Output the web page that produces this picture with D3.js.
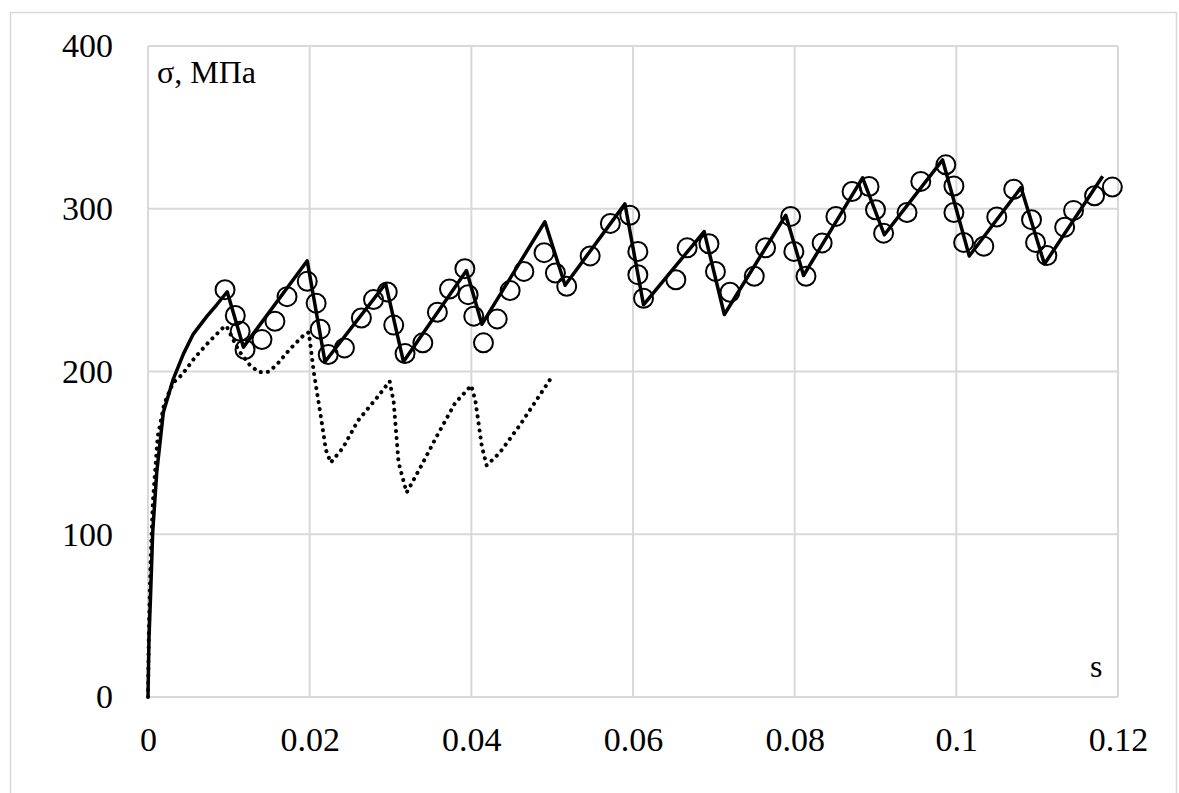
<!DOCTYPE html>
<html>
<head>
<meta charset="utf-8">
<script src="https://cdn.jsdelivr.net/npm/d3@7"></script>
<style>
  body { margin: 0; background: #fff; }
  text { font-family: "Liberation Serif", "Times New Roman", serif; fill: #000; }
</style>
</head>
<body>
<svg id="chart" width="1179" height="793"></svg>
<script>
// Model curve (solid line)
const modelX = [0, 0.00012, 0.0003, 0.00058, 0.00108, 0.0019, 0.0031, 0.0044, 0.0056, 0.0073,
  0.0085, 0.0098,
  0.0118, 0.0197, 0.0219, 0.0294, 0.0316, 0.0394, 0.0413, 0.0491, 0.0516, 0.059,
  0.0613, 0.0688, 0.0713, 0.0789, 0.0811, 0.0884, 0.0911, 0.0983, 0.1016, 0.108,
  0.1109, 0.1181];
const modelY = [0, 36, 60, 101, 138, 175, 195, 211, 223, 234,
  241, 249,
  215, 268, 206, 254, 206, 262, 229, 292, 253, 303,
  241, 286, 235, 296, 259, 319, 284, 330, 271, 313,
  266, 320];

// Second curve (dotted line)
const dotX = [0, 0.0001, 0.0003, 0.0006, 0.0012, 0.002, 0.0031, 0.0042, 0.0058, 0.0075,
  0.0093, 0.0097, 0.0112, 0.0126, 0.0137, 0.0149, 0.0159, 0.0176, 0.0194, 0.0199,
  0.0205, 0.0213, 0.022, 0.0226, 0.0241, 0.026, 0.0284, 0.0299, 0.0304, 0.031,
  0.032, 0.0338, 0.0357, 0.038, 0.04, 0.0405, 0.0413, 0.0419, 0.0435, 0.046,
  0.048, 0.05];
const dotY = [0, 40, 80, 120, 160, 180, 193, 198, 208.6, 218,
  227, 228, 213, 204, 199.6, 199.8, 204, 214, 223, 224,
  200, 175, 152, 144, 153, 170, 184.4, 194, 181, 144,
  125.6, 142, 160, 180.7, 191.4, 182, 154, 142.3, 150, 167,
  182, 197];

// Experimental points (circles)
const expX = [0.00953, 0.0108, 0.0114, 0.012, 0.0141, 0.0157, 0.0172, 0.0197, 0.0208, 0.0213,
  0.0223, 0.0243, 0.0264, 0.0279, 0.0296, 0.0304, 0.0318, 0.034, 0.0358, 0.0373,
  0.0392, 0.0396, 0.0403, 0.0415, 0.0432, 0.0448, 0.0465, 0.049, 0.0504, 0.0518,
  0.0547, 0.0572, 0.0596, 0.0606, 0.0606, 0.0613, 0.0653, 0.0667, 0.0694, 0.0702,
  0.072, 0.075, 0.0764, 0.0795, 0.0799, 0.0814, 0.0834, 0.0851, 0.0871, 0.0892,
  0.09, 0.091, 0.0939, 0.0956, 0.0987, 0.0997, 0.0997, 0.1009, 0.1034, 0.105,
  0.1071, 0.1093, 0.1098, 0.1112, 0.1134, 0.1145, 0.1171, 0.1193];
const expY = [250.3, 234.4, 224.7, 213.5, 219.6, 230.9, 246, 255.4, 242, 226,
  210.4, 214.5, 232.9, 244.2, 248.9, 228.5, 211, 217.6, 236.4, 250.7,
  263.2, 247.2, 234, 217.6, 232.3, 249.7, 261.5, 273, 260.5, 252.4,
  271, 291, 296, 273.8, 259.5, 245, 256.4, 276, 278.5, 261.5,
  248.7, 258.5, 276, 295.3, 273.8, 258.5, 279, 295.3, 310.6, 313.7,
  299.4, 285, 297.7, 316.8, 327, 314, 297.7, 279.3, 277, 295,
  312, 293.3, 279.3, 271.2, 288.7, 299, 308, 313.3];

const xTicks = [0, 0.02, 0.04, 0.06, 0.08, 0.1, 0.12];
const xTickLabels = ['0', '0.02', '0.04', '0.06', '0.08', '0.1', '0.12'];
const yTicks = [0, 100, 200, 300, 400];

const svg = d3.select('#chart');
const margin = { top: 46, right: 61, bottom: 96, left: 148 };
const width = 1179, height = 793;
const gridColor = '#d9d9d9';

const x = d3.scaleLinear().domain([0, 0.12]).range([margin.left, width - margin.right]);
const y = d3.scaleLinear().domain([0, 400]).range([height - margin.bottom, margin.top]);

// outer chart border
svg.append('rect')
  .attr('x', 10.5).attr('y', 12.5)
  .attr('width', 1166).attr('height', 800)
  .attr('fill', 'none').attr('stroke', gridColor).attr('stroke-width', 1.5);

// gridlines
svg.append('g')
  .selectAll('line.v')
  .data(xTicks)
  .enter().append('line')
  .attr('x1', d => x(d)).attr('x2', d => x(d))
  .attr('y1', y(0)).attr('y2', y(400))
  .attr('stroke', gridColor).attr('stroke-width', 2);

svg.append('g')
  .selectAll('line.h')
  .data(yTicks)
  .enter().append('line')
  .attr('x1', x(0)).attr('x2', x(0.12))
  .attr('y1', d => y(d)).attr('y2', d => y(d))
  .attr('stroke', gridColor).attr('stroke-width', 2);

// axes (labels only)
const xAxis = d3.axisBottom(x).tickValues(xTicks)
  .tickFormat((d, i) => xTickLabels[i]).tickSize(0).tickPadding(30);
const gx = svg.append('g')
  .attr('transform', `translate(0,${y(0)})`)
  .call(xAxis);
gx.select('.domain').remove();
gx.selectAll('text').attr('font-size', 34).attr('font-family', '"Liberation Serif", serif');

const yAxis = d3.axisLeft(y).tickValues(yTicks).tickSize(0).tickPadding(35);
const gy = svg.append('g')
  .attr('transform', `translate(${x(0)},0)`)
  .call(yAxis);
gy.select('.domain').remove();
gy.selectAll('text').attr('font-size', 34).attr('font-family', '"Liberation Serif", serif');

// dotted curve
const dotData = dotX.map((d, i) => [d, dotY[i]]);
svg.append('path')
  .datum(dotData)
  .attr('fill', 'none')
  .attr('stroke', '#000')
  .attr('stroke-width', 4)
  .attr('stroke-linecap', 'round')
  .attr('stroke-dasharray', '0.1 7')
  .attr('d', d3.line().x(d => x(d[0])).y(d => y(d[1])));

// solid curve
const modelData = modelX.map((d, i) => [d, modelY[i]]);
svg.append('path')
  .datum(modelData)
  .attr('fill', 'none')
  .attr('stroke', '#000')
  .attr('stroke-width', 3.5)
  .attr('stroke-linejoin', 'round')
  .attr('d', d3.line().x(d => x(d[0])).y(d => y(d[1])));

// experimental circles
svg.append('g')
  .selectAll('circle')
  .data(expX.map((d, i) => [d, expY[i]]))
  .enter().append('circle')
  .attr('cx', d => x(d[0]))
  .attr('cy', d => y(d[1]))
  .attr('r', 9.5)
  .attr('fill', 'none')
  .attr('stroke', '#000')
  .attr('stroke-width', 2);

// axis titles
svg.append('text')
  .attr('x', 157).attr('y', 83)
  .attr('font-size', 32)
  .text('σ, МПа');

svg.append('text')
  .attr('x', 1090).attr('y', 677)
  .attr('font-size', 32)
  .text('s');
</script>
</body>
</html>
